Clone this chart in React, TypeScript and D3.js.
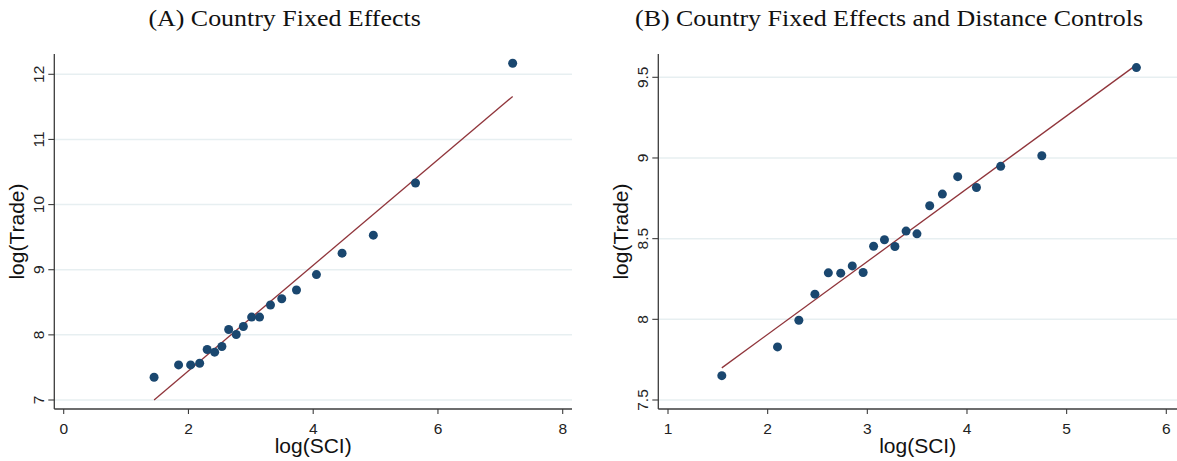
import React from "react";
import * as d3 from "d3";

// Panel A: Country Fixed Effects
const sciA = [1.449, 1.842, 2.035, 2.18, 2.3, 2.42, 2.536, 2.645, 2.766, 2.88, 3.013, 3.14, 3.315, 3.496, 3.732, 4.052, 4.463, 4.964, 5.64, 7.198];
const tradeA = [7.349, 7.539, 7.539, 7.565, 7.775, 7.734, 7.821, 8.083, 8.006, 8.129, 8.273, 8.273, 8.458, 8.555, 8.689, 8.925, 9.254, 9.531, 10.332, 12.169];
const fitXA = [1.449, 7.198];
const fitYA = [7.0, 11.661];
const xTicksA = [0, 2, 4, 6, 8];
const yTicksA = [7, 8, 9, 10, 11, 12];

// Panel B: Country Fixed Effects and Distance Controls
const sciB = [1.54, 2.099, 2.313, 2.474, 2.609, 2.733, 2.849, 2.958, 3.063, 3.172, 3.277, 3.389, 3.498, 3.626, 3.753, 3.907, 4.095, 4.338, 4.751, 5.7];
const tradeB = [7.651, 7.829, 7.994, 8.156, 8.288, 8.286, 8.331, 8.29, 8.453, 8.493, 8.451, 8.547, 8.53, 8.704, 8.776, 8.884, 8.817, 8.948, 9.014, 9.56];
const fitXB = [1.54, 5.7];
const fitYB = [7.699, 9.577];
const xTicksB = [1, 2, 3, 4, 5, 6];
const yTicksB = [7.5, 8, 8.5, 9, 9.5];

const titles = ["(A) Country Fixed Effects", "(B) Country Fixed Effects and Distance Controls"];
const xLabel = "log(SCI)";
const yLabel = "log(Trade)";

const DOT = "#1a476f";
const FIT = "#90353b";
const GRID = "#e7eff1";
const AXIS = "#3c3c3c";
const SANS = "'Liberation Sans', Arial, sans-serif";
const SERIF = "'Liberation Serif', 'Times New Roman', serif";

type PanelProps = {
  title: string;
  titleX: number;
  titleLen: number;
  xs: number[];
  ys: number[];
  fitX: number[];
  fitY: number[];
  xTicks: number[];
  yTicks: number[];
  xDomain: [number, number];
  yDomain: [number, number];
  xRange: [number, number];
  yRange: [number, number];
  axisX: number;
  axisY: number;
  top: number;
  right: number;
};

function Panel(p: PanelProps) {
  const x = d3.scaleLinear().domain(p.xDomain).range(p.xRange);
  const y = d3.scaleLinear().domain(p.yDomain).range(p.yRange);
  const line = d3
    .line<number>()
    .x((_, i) => x(p.fitX[i]))
    .y((d) => y(d));
  const fmt = (v: number) => d3.format("~g")(v);
  const midX = (p.axisX + p.right) / 2;
  const midY = (p.top + p.axisY) / 2;
  return (
    <g>
      <text
        x={p.titleX}
        y={25.5}
        textAnchor="middle"
        fontFamily={SERIF}
        fontSize={23.5}
        fill="#111"
        textLength={p.titleLen}
        lengthAdjust="spacingAndGlyphs"
      >
        {p.title}
      </text>
      {/* gridlines */}
      {p.yTicks.map((t) => (
        <line key={"g" + t} x1={p.axisX} x2={p.right} y1={y(t)} y2={y(t)} stroke={GRID} strokeWidth={1.5} />
      ))}
      {/* axes */}
      <line x1={p.axisX} x2={p.axisX} y1={p.top} y2={p.axisY} stroke={AXIS} strokeWidth={1.3} />
      <line x1={p.axisX} x2={p.right} y1={p.axisY} y2={p.axisY} stroke={AXIS} strokeWidth={1.3} />
      {p.yTicks.map((t) => (
        <g key={"yt" + t}>
          <line x1={p.axisX - 6} x2={p.axisX} y1={y(t)} y2={y(t)} stroke={AXIS} strokeWidth={1.1} />
          <text
            transform={`translate(${p.axisX - 10.5},${y(t)}) rotate(-90)`}
            textAnchor="middle"
            fontFamily={SANS}
            fontSize={15.5}
            fill="#222"
          >
            {fmt(t)}
          </text>
        </g>
      ))}
      {p.xTicks.map((t) => (
        <g key={"xt" + t}>
          <line x1={x(t)} x2={x(t)} y1={p.axisY} y2={p.axisY + 5} stroke={AXIS} strokeWidth={1.1} />
          <text x={x(t)} y={433.5} textAnchor="middle" fontFamily={SANS} fontSize={15.5} fill="#222">
            {fmt(t)}
          </text>
        </g>
      ))}
      <text x={midX} y={452.5} textAnchor="middle" fontFamily={SANS} fontSize={21} fill="#111">
        {xLabel}
      </text>
      <text
        transform={`translate(${p.axisX - 30},${midY}) rotate(-90)`}
        textAnchor="middle"
        fontFamily={SANS}
        fontSize={21}
        fill="#111"
      >
        {yLabel}
      </text>
      {/* fit line */}
      <path d={line(p.fitY) || ""} fill="none" stroke={FIT} strokeWidth={1.3} />
      {/* dots */}
      {p.xs.map((v, i) => (
        <circle key={"d" + i} cx={x(v)} cy={y(p.ys[i])} r={4.5} fill={DOT} />
      ))}
    </g>
  );
}

export default function App() {
  return (
    <svg
      width={1177}
      height={461}
      style={{ position: "absolute", left: 0, top: 0, background: "#fff" }}
    >
      <rect width={1177} height={461} fill="#fff" />
      <Panel
        title={titles[0]}
        titleX={284.6}
        titleLen={272.4}
        xs={sciA}
        ys={tradeA}
        fitX={fitXA}
        fitY={fitYA}
        xTicks={xTicksA}
        yTicks={yTicksA}
        xDomain={[0, 8]}
        yDomain={[7, 12]}
        xRange={[63.7, 562.7]}
        yRange={[400, 74.3]}
        axisX={54.3}
        axisY={409}
        top={54}
        right={572}
      />
      <Panel
        title={titles[1]}
        titleX={889}
        titleLen={508}
        xs={sciB}
        ys={tradeB}
        fitX={fitXB}
        fitY={fitYB}
        xTicks={xTicksB}
        yTicks={yTicksB}
        xDomain={[1, 6]}
        yDomain={[7.5, 9.5]}
        xRange={[668, 1166.3]}
        yRange={[400, 77.3]}
        axisX={658.3}
        axisY={409}
        top={54}
        right={1177}
      />
    </svg>
  );
}
